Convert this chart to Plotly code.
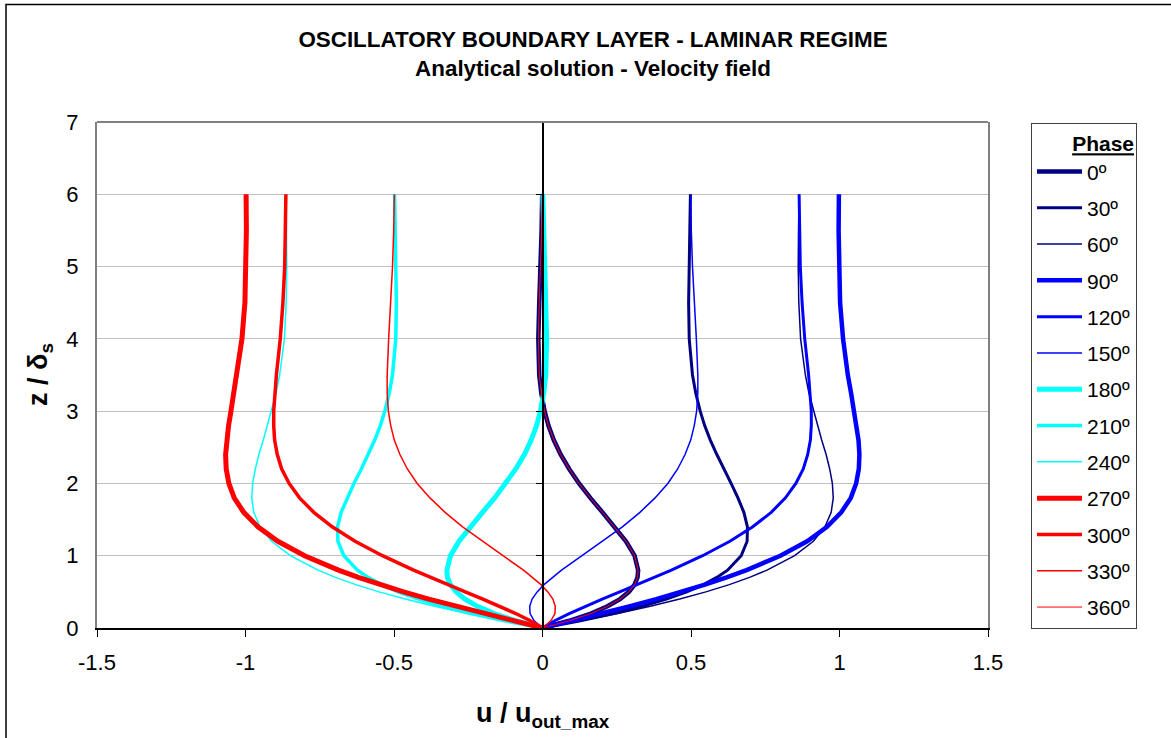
import plotly.graph_objects as go

# Dimensionless height z / delta_s
z_vals = [0, 0.1, 0.2, 0.3, 0.4, 0.5, 0.6, 0.7, 0.8, 1.0, 1.2, 1.4, 1.6, 1.8, 2.0,
          2.2, 2.4, 2.6, 2.8, 3.0, 3.25, 3.5, 4.0, 4.5, 5.0, 5.5, 6.0]

u_0 = [0, 0.090, 0.163, 0.219, 0.261, 0.291, 0.310, 0.320, 0.322, 0.310, 0.281, 0.243, 0.202, 0.161,
       0.123, 0.090, 0.061, 0.038, 0.020, 0.007, -0.004, -0.011, -0.014, -0.011, -0.006, -0.003, -0.001]
u_30 = [0, 0.128, 0.240, 0.336, 0.417, 0.486, 0.542, 0.587, 0.623, 0.669, 0.689, 0.690, 0.678, 0.658,
        0.635, 0.610, 0.587, 0.565, 0.546, 0.531, 0.516, 0.505, 0.494, 0.492, 0.494, 0.496, 0.498]
u_60 = [0, 0.132, 0.253, 0.363, 0.462, 0.550, 0.629, 0.697, 0.756, 0.849, 0.912, 0.951, 0.972, 0.979,
        0.976, 0.967, 0.955, 0.940, 0.926, 0.912, 0.897, 0.885, 0.869, 0.863, 0.861, 0.862, 0.864]
u_90 = [0, 0.100, 0.198, 0.292, 0.383, 0.468, 0.547, 0.620, 0.687, 0.801, 0.891, 0.958, 1.006, 1.038,
        1.056, 1.065, 1.067, 1.064, 1.057, 1.049, 1.039, 1.028, 1.012, 1.002, 0.998, 0.997, 0.998]
u_120 = [0, 0.041, 0.090, 0.144, 0.201, 0.260, 0.319, 0.377, 0.434, 0.539, 0.631, 0.708, 0.770, 0.818,
         0.853, 0.878, 0.893, 0.902, 0.905, 0.905, 0.901, 0.896, 0.883, 0.874, 0.868, 0.865, 0.864]
u_150 = [0, -0.028, -0.042, -0.043, -0.035, -0.018, 0.005, 0.033, 0.064, 0.133, 0.202, 0.269, 0.328, 0.379,
         0.422, 0.455, 0.480, 0.499, 0.511, 0.519, 0.523, 0.523, 0.518, 0.511, 0.505, 0.501, 0.499]
u_180 = [0, -0.090, -0.163, -0.219, -0.261, -0.291, -0.310, -0.320, -0.322, -0.310, -0.281, -0.243, -0.202, -0.161,
         -0.123, -0.090, -0.061, -0.038, -0.020, -0.007, 0.004, 0.011, 0.014, 0.011, 0.006, 0.003, 0.001]
u_210 = [0, -0.128, -0.240, -0.336, -0.417, -0.486, -0.542, -0.587, -0.623, -0.669, -0.689, -0.690, -0.678, -0.658,
         -0.635, -0.610, -0.587, -0.565, -0.546, -0.531, -0.516, -0.505, -0.494, -0.492, -0.494, -0.496, -0.498]
u_240 = [0, -0.132, -0.253, -0.363, -0.462, -0.550, -0.629, -0.697, -0.756, -0.849, -0.912, -0.951, -0.972, -0.979,
         -0.976, -0.967, -0.955, -0.940, -0.926, -0.912, -0.897, -0.885, -0.869, -0.863, -0.861, -0.862, -0.864]
u_270 = [0, -0.100, -0.198, -0.292, -0.383, -0.468, -0.547, -0.620, -0.687, -0.801, -0.891, -0.958, -1.006, -1.038,
         -1.056, -1.065, -1.067, -1.064, -1.057, -1.049, -1.039, -1.028, -1.012, -1.002, -0.998, -0.997, -0.998]
u_300 = [0, -0.041, -0.090, -0.144, -0.201, -0.260, -0.319, -0.377, -0.434, -0.539, -0.631, -0.708, -0.770, -0.818,
         -0.853, -0.878, -0.893, -0.902, -0.905, -0.905, -0.901, -0.896, -0.883, -0.874, -0.868, -0.865, -0.864]
u_330 = [0, 0.028, 0.042, 0.043, 0.035, 0.018, -0.005, -0.033, -0.064, -0.133, -0.202, -0.269, -0.328, -0.379,
         -0.422, -0.455, -0.480, -0.499, -0.511, -0.519, -0.523, -0.523, -0.518, -0.511, -0.505, -0.501, -0.499]
u_360 = [0, 0.090, 0.163, 0.219, 0.261, 0.291, 0.310, 0.320, 0.322, 0.310, 0.281, 0.243, 0.202, 0.161,
         0.123, 0.090, 0.061, 0.038, 0.020, 0.007, -0.004, -0.011, -0.014, -0.011, -0.006, -0.003, -0.001]

phase_labels = ["0º", "30º", "60º", "90º", "120º", "150º", "180º", "210º", "240º",
                "270º", "300º", "330º", "360º"]
series = [u_0, u_30, u_60, u_90, u_120, u_150, u_180, u_210, u_240, u_270, u_300, u_330, u_360]
colors = ["#000080", "#000080", "#000080", "#0000FF", "#0000FF", "#0000FF",
          "#00FFFF", "#00FFFF", "#00FFFF", "#FF0000", "#FF0000", "#FF0000", "#FF0000"]
widths = [4.5, 3, 1.5, 4.5, 3, 1.5, 5, 3.5, 1.5, 5, 3.5, 1.5, 1]

x_ticks = [-1.5, -1, -0.5, 0, 0.5, 1, 1.5]
x_ticktext = ["-1.5", "-1", "-0.5", "0", "0.5", "1", "1.5"]
y_ticks = [0, 1, 2, 3, 4, 5, 6, 7]

FONT = "Liberation Sans, Arial, sans-serif"

fig = go.Figure()
for i, (lab, u, c, w) in enumerate(zip(phase_labels, series, colors, widths)):
    fig.add_trace(go.Scatter(x=u, y=z_vals, mode="lines", name=lab,
                             line=dict(color=c, width=w), legendgroup=f"g{i}"))

W, H = 1171, 738
L, R, T, B = 97, 988, 122, 628

fig.update_layout(
    width=W, height=H,
    margin=dict(l=L, r=W - R, t=T, b=H - B),
    paper_bgcolor="white", plot_bgcolor="white",
    font=dict(family=FONT, color="black", size=22),
    showlegend=True,
    legend=dict(
        x=(1031 - L) / (R - L), xanchor="left",
        y=(B - 123) / (B - T), yanchor="top",
        bgcolor="white", bordercolor="#404040", borderwidth=1,
        font=dict(size=21, family=FONT),
        title=dict(text="<b><u>Phase</u></b>", side="top right", font=dict(size=21, family=FONT)),
        tracegroupgap=6, maxheight=1.0, itemwidth=45,
    ),
    xaxis=dict(range=[-1.5, 1.5], tickvals=x_ticks, ticktext=x_ticktext,
               showgrid=False, zeroline=False, showline=True, linecolor="black", linewidth=1.5,
               ticks="outside", ticklen=7, tickcolor="black", tickwidth=1,
               tickfont=dict(size=22), ticklabelstandoff=7),
    yaxis=dict(range=[0, 7], tickvals=y_ticks, showgrid=True, gridcolor="#C0C0C0", gridwidth=1,
               zeroline=False, showline=True, linecolor="#808080", linewidth=2, mirror=True,
               ticks="", tickfont=dict(size=22), ticklabelstandoff=12),
    yaxis2=dict(range=[0, 7], overlaying="y", anchor="free", position=0.5, side="left",
                tickvals=y_ticks, showticklabels=False, showgrid=False, zeroline=False,
                showline=True, linecolor="black", linewidth=1.5,
                ticks="outside", ticklen=6, tickcolor="black"),
    title=dict(text="<b>OSCILLATORY BOUNDARY LAYER - LAMINAR REGIME<br>Analytical solution - Velocity field</b>",
               x=593 / W, xanchor="center", xref="container",
               y=1 - 47 / H, yanchor="top", yref="container",
               font=dict(size=22.4, family=FONT)),
    shapes=[
        dict(type="line", xref="paper", yref="paper", x0=0, x1=1, y0=1, y1=1,
             line=dict(color="#808080", width=2)),
        dict(type="rect", xref="paper", yref="paper",
             x0=(6 - L) / (R - L), x1=(1180 - L) / (R - L),
             y0=(B - 745) / (B - T), y1=(B - 4.5) / (B - T),
             line=dict(color="black", width=1.5)),
    ],
    annotations=[
        dict(text="<b>u / u<sub>out_max</sub></b>", xref="paper", yref="paper",
             x=(543 - L) / (R - L), y=(B - 715) / (B - T), xanchor="center", yanchor="middle",
             showarrow=False, font=dict(size=27, family=FONT)),
        dict(text="<b>z / δ<sub>s</sub></b>", xref="paper", yref="paper",
             x=(40 - L) / (R - L), y=(B - 375) / (B - T), xanchor="center", yanchor="middle",
             textangle=-90, showarrow=False, font=dict(size=27, family=FONT)),
    ],
)

# invisible trace so that the zero-crossing vertical axis (yaxis2) is drawn
fig.add_trace(go.Scatter(x=[0], y=[0], yaxis="y2", mode="lines", showlegend=False,
                         hoverinfo="skip", line=dict(width=0)))

fig.write_html("out.html")
